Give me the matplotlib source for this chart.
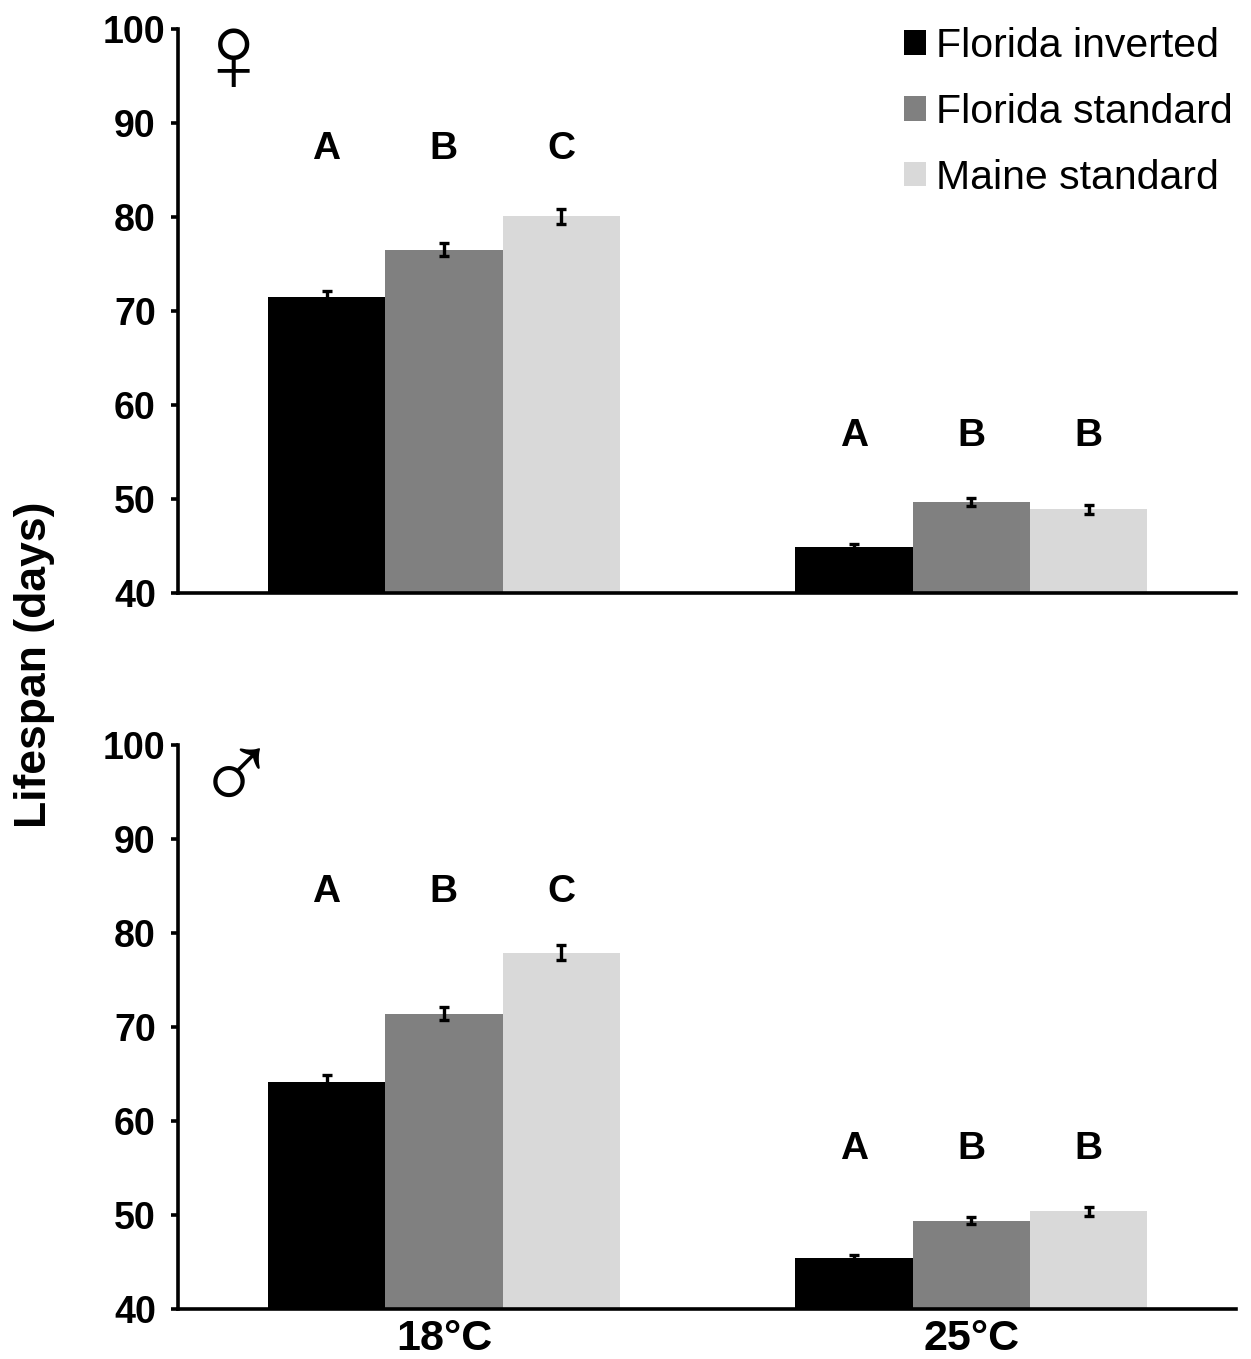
import numpy as np
import matplotlib
matplotlib.use('Agg')
import matplotlib.pyplot as plt
from matplotlib.transforms import ScaledTranslation

plt.rcParams['font.family'] = ['Liberation Sans', 'DejaVu Sans']

temps = ['18°C', '25°C']
strains = ['Florida inverted', 'Florida standard', 'Maine standard']
colors = ['#000000', '#808080', '#d9d9d9']

# values per strain, [18C, 25C]
female = [[71.5, 44.9], [76.5, 49.7], [80.1, 48.9]]
female_err = [[0.6, 0.35], [0.7, 0.4], [0.8, 0.5]]
male = [[64.2, 45.4], [71.4, 49.4], [77.9, 50.4]]
male_err = [[0.7, 0.3], [0.7, 0.4], [0.8, 0.5]]

# significance letters per strain, [18C, 25C]
female_letters = [['A', 'A'], ['B', 'B'], ['C', 'B']]
male_letters = [['A', 'A'], ['B', 'B'], ['C', 'B']]
female_letter_y = [87.2, 56.7]
male_letter_y = [84.4, 57.0]

W, H = 1251, 1359
bar_w = 0.2224
fig = plt.figure(figsize=(W / 100, H / 100), dpi=100)


def make_panel(y_top, y_bot, vals, errs, letters, letter_y, symbol, sym_x, sym_y):
    ax = fig.add_axes([178 / W, 1 - y_bot / H, (1236 - 178) / W, (y_bot - y_top) / H])
    x = np.arange(len(temps))
    for i, name in enumerate(strains):
        ax.bar(x + (i - 1) * bar_w, vals[i], bar_w, color=colors[i], label=name,
               yerr=errs[i], error_kw=dict(ecolor='black', elinewidth=2.4, capsize=3.6, capthick=2.4))
        for j in x:
            ax.text(j + (i - 1) * bar_w, letter_y[j], letters[i][j], ha='center', va='center',
                    fontsize=28, fontweight='bold')
    ax.set_xlim(-0.504, 1.5014)
    ax.set_ylim(40, 100)
    ax.set_yticks(range(40, 101, 10))
    ax.spines['top'].set_visible(False)
    ax.spines['right'].set_visible(False)
    ax.spines['left'].set_linewidth(2.6)
    ax.spines['bottom'].set_linewidth(2.6)
    ax.tick_params(axis='y', length=5, width=2.6, pad=11, labelsize=27)
    for lab in ax.get_yticklabels():
        lab.set_fontweight('bold')
        if lab.get_text() == '100':
            # the 100 label sits closer to the axis than the others
            lab.set_transform(lab.get_transform() + ScaledTranslation(7 / 72, 0, fig.dpi_scale_trans))
    ax.set_xticks(x)
    ax.set_xticklabels([])
    ax.tick_params(axis='x', length=0)
    ax.text(sym_x, sym_y, symbol, transform=ax.transAxes, ha='center', va='center',
            fontsize=80, family='Liberation Sans')
    return ax


ax1 = make_panel(29, 593, female, female_err, female_letters, female_letter_y, '♀', 0.052, 0.942)
ax2 = make_panel(745, 1309, male, male_err, male_letters, male_letter_y, '♂', 0.055, 0.935)

ax2.set_xticklabels(temps, fontsize=31, fontweight='bold')
ax2.tick_params(axis='x', pad=7)

ax1.legend(loc='upper right', bbox_to_anchor=(0.997, 1.0035), frameon=False, fontsize=29.5,
           handlelength=0.54, handleheight=0.54, handletextpad=0.245, labelspacing=0.68,
           borderpad=0, borderaxespad=0)

fig.text(35 / W, 1 - 665 / H, 'Lifespan (days)', rotation=90, ha='center', va='center',
         fontsize=32, fontweight='bold')

fig.savefig('out.png', dpi=100)
